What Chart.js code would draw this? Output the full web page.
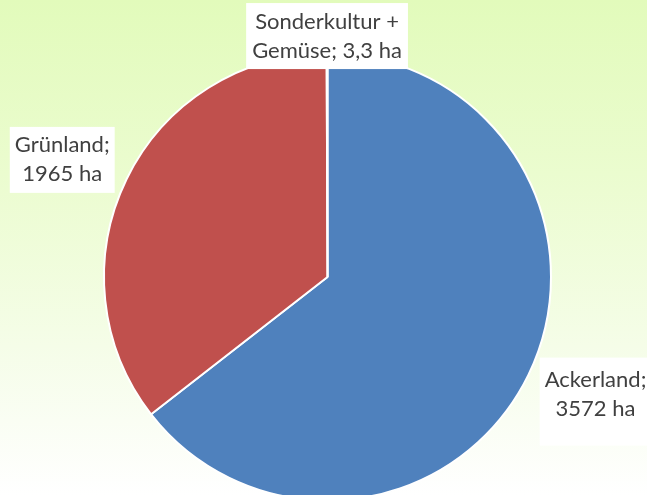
<!DOCTYPE html>
<html>
<head>
<meta charset="utf-8">
<script src="https://cdn.jsdelivr.net/npm/chart.js@4"></script>
<style>
  html, body { margin: 0; padding: 0; }
  #frame {
    width: 647px; height: 495px; overflow: hidden; position: relative;
    background: linear-gradient(to bottom, #e2fbbb 0%, #ebfccf 35%, #f5fde8 70%, #ffffff 100%);
  }
  #wrap { position: absolute; left: 0; top: 0; width: 647px; height: 560px; }
</style>
</head>
<body>
<div id="frame"><div id="wrap"><canvas id="chart"></canvas></div></div>
<script>
// Data
const categories = ['Ackerland', 'Grünland', 'Sonderkultur + Gemüse'];
const area_ha = [3572, 1965, 3.3];
const label_lines = [
    ['Ackerland;', '3572 ha'],
    ['Grünland;', '1965 ha'],
    ['Sonderkultur +', 'Gemüse; 3,3 ha'],
];

// Colors
const slice_colors = ['#4f81bd', '#c0504d', '#9bbb59'];
const text_color = '#404040';

// label placement: distance as share of radius, plus a small nudge
const label_place = [
    { dist: 1.3, dx: 7, dy: -10, padX: 5, padTop: 8, padBottom: 22 },
    { dist: 1.3, dx: -4, dy: 10, padX: 5, padTop: 4, padBottom: 4 },
    { dist: 1.078, dx: 0, dy: 0, padX: 6, padTop: 4, padBottom: 4 },
];

const boxLabels = {
    id: 'boxLabels',
    afterDatasetsDraw(chart) {
        const ctx = chart.ctx;
        const arcs = chart.getDatasetMeta(0).data;
        ctx.save();
        ctx.font = '22px Lato, sans-serif';
        ctx.textAlign = 'center';
        ctx.textBaseline = 'middle';
        const lh = 29;
        arcs.forEach((arc, i) => {
            const p = arc.getProps(['x', 'y', 'startAngle', 'endAngle', 'outerRadius']);
            const mid = (p.startAngle + p.endAngle) / 2;
            const pl = label_place[i];
            const cx = p.x + Math.cos(mid) * p.outerRadius * pl.dist + pl.dx;
            const cy = p.y + Math.sin(mid) * p.outerRadius * pl.dist + pl.dy;
            const lines = label_lines[i];
            const w = Math.max(...lines.map(l => ctx.measureText(l).width));
            const h = lh * lines.length;
            ctx.fillStyle = '#ffffff';
            ctx.fillRect(cx - w / 2 - pl.padX, cy - h / 2 - pl.padTop,
                w + pl.padX * 2, h + pl.padTop + pl.padBottom);
            ctx.fillStyle = text_color;
            lines.forEach((l, k) => {
                ctx.fillText(l, cx, cy - h / 2 + lh * (k + 0.5));
            });
        });
        ctx.restore();
    }
};

const chart_canvas = document.getElementById('chart');
let chart = new Chart(chart_canvas, {
    type: 'pie',
    data: {
        labels: categories,
        datasets: [{
            data: area_ha,
            backgroundColor: slice_colors,
            borderColor: '#ffffff',
            borderWidth: 2,
        }]
    },
    options: {
        animation: false,
        responsive: true,
        maintainAspectRatio: false,
        layout: { padding: { top: 52, bottom: 58, left: 103, right: 95 } },
        plugins: {
            legend: { display: false },
            title: { display: false },
            tooltip: { enabled: false },
        }
    },
    plugins: [boxLabels]
});
</script>
</body>
</html>
